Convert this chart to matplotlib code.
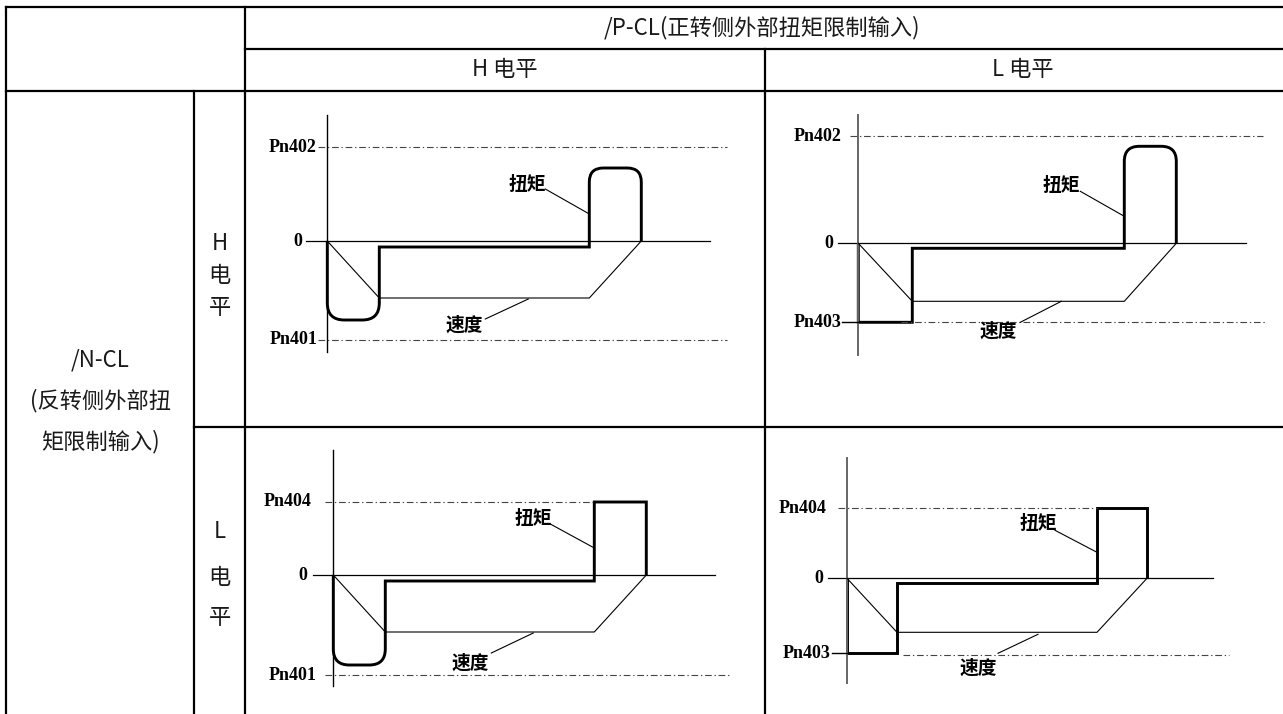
import matplotlib
matplotlib.use("Agg")
import matplotlib.pyplot as plt
from matplotlib.path import Path
from matplotlib.patches import PathPatch

plt.rcParams['font.family'] = ['Noto Sans CJK SC', 'DejaVu Sans']

W, H = 1283, 714

# ---------------- table text ----------------
top_header = "/P-CL(正转侧外部扭矩限制输入)"
col_headers = ["H 电平", "L 电平"]
row_block = ["/N-CL", "(反转侧外部扭", "矩限制输入)"]
row_levels = [["H", "电", "平"], ["L", "电", "平"]]

# ---------------- diagram data (time / torque / speed units) ----------------
# each panel: times t1 (decel end), t2 (accel start), t3 (end)
panels = [
    dict(t=[0, 52, 262, 314], tq_neg=-79, tq_hold=-6, tq_pos=73, spd=-57,
         pos_name="Pn402", pos_lim=94, neg_name="Pn401", neg_lim=-99,
         round_neg=17, round_pos=14),
    dict(t=[0, 54, 266, 318], tq_neg=-79, tq_hold=-5, tq_pos=97, spd=-58,
         pos_name="Pn402", pos_lim=107, neg_name="Pn403", neg_lim=-79,
         round_neg=0, round_pos=15),
    dict(t=[0, 52, 261, 313], tq_neg=-90, tq_hold=-6, tq_pos=73, spd=-57,
         pos_name="Pn404", pos_lim=73, neg_name="Pn401", neg_lim=-100,
         round_neg=16, round_pos=0),
    dict(t=[0, 50, 250, 300], tq_neg=-75, tq_hold=-5, tq_pos=70, spd=-54,
         pos_name="Pn404", pos_lim=70, neg_name="Pn403", neg_lim=-77,
         round_neg=0, round_pos=0),
]

# ---------------- layout (pixels) ----------------
x_left, x_split, x_c1, x_c2, x_right = 6, 194, 245, 765, 1290
y_top, y_r1, y_r2, y_r3 = 7, 49, 91, 427

layout = [
    dict(origin=(327.3, 241.0), xaxis=(-21, 383), vaxis=(-111, 126),
         pos_dash=(-9, 400), neg_dash=(-9, 400), pos_lab=-11, neg_lab=-10, zero_lab=-25,
         neg_conn=False, tq_lab=(200, 57), tq_lead=((218, 52), (262, 27)),
         sp_lab=(137, -84), sp_lead=((158, -78), (201, -58)), axcol='black'),
    dict(origin=(858.3, 243.3), xaxis=(-20, 388), vaxis=(-112, 128),
         pos_dash=(-8, 405), neg_dash=(43, 407), pos_lab=-17, neg_lab=-17, zero_lab=-25,
         neg_conn=True, tq_lab=(203, 58), tq_lead=((222, 52), (266, 27)),
         sp_lab=(140, -88), sp_lead=((162, -79), (203, -58)), axcol='#666666'),
    dict(origin=(333.3, 575.0), xaxis=(-20, 382), vaxis=(-111, 125),
         pos_dash=(-8, 260), neg_dash=(-8, 398), pos_lab=-22, neg_lab=-17, zero_lab=-26,
         neg_conn=False, tq_lab=(200, 57), tq_lead=((217, 51), (261, 27)),
         sp_lab=(137, -88), sp_lead=((158, -78), (200, -58)), axcol='black'),
    dict(origin=(847.0, 578.3), xaxis=(-19, 366), vaxis=(-105, 120),
         pos_dash=(-9, 250), neg_dash=(56, 382), pos_lab=-20, neg_lab=-16, zero_lab=-24,
         neg_conn=True, tq_lab=(191, 55), tq_lead=((208, 48), (250, 26)),
         sp_lab=(131, -90), sp_lead=((151, -75), (191, -56)), axcol='#666666'),
]

fig = plt.figure(figsize=(W / 100, H / 100), dpi=100)
ax = fig.add_axes([0, 0, 1, 1])
ax.set_xlim(0, W)
ax.set_ylim(H, 0)
ax.axis('off')

tlw = 1.6
def hl(y, x0, x1):
    ax.plot([x0, x1], [y, y], color='black', lw=tlw, solid_capstyle='projecting')
def vl(x, y0, y1):
    ax.plot([x, x], [y0, y1], color='black', lw=tlw, solid_capstyle='projecting')

hl(y_top, x_left, x_right)
hl(y_r1, x_c1, x_right)
hl(y_r2, x_left, x_right)
hl(y_r3, x_split, x_right)
vl(x_left, y_top, H + 5)
vl(x_c1, y_top, H + 5)
vl(x_split, y_r2, H + 5)
vl(x_c2, y_r1, H + 5)

tc = '#1a1a1a'
fs = 16
tw = 'light'
ax.text((x_c1 + 1280) / 2, 28, top_header, ha='center', va='center', fontsize=fs, color=tc, fontweight=tw)
ax.text((x_c1 + x_c2) / 2, 70, col_headers[0], ha='center', va='center', fontsize=fs, color=tc, fontweight=tw)
ax.text((x_c2 + 1280) / 2, 70, col_headers[1], ha='center', va='center', fontsize=fs, color=tc, fontweight=tw)
for i, s in enumerate(row_block):
    ax.text((x_left + x_split) / 2, 360 + i * 41, s, ha='center', va='center', fontsize=fs, color=tc, fontweight=tw)
lvl_y = [[244, 276, 307], [532, 577, 618]]
for r in range(2):
    for i, s in enumerate(row_levels[r]):
        ax.text((x_split + x_c1) / 2, lvl_y[r][i], s, ha='center', va='center', fontsize=fs, color=tc, fontweight=tw)


def rounded_path(pts, radii):
    verts = [pts[0]]
    codes = [Path.MOVETO]
    for i in range(1, len(pts) - 1):
        p, c, n = pts[i - 1], pts[i], pts[i + 1]
        r = radii[i]
        if r <= 0:
            verts.append(c); codes.append(Path.LINETO)
            continue
        def toward(a, b, d):
            dx, dy = b[0] - a[0], b[1] - a[1]
            L = (dx * dx + dy * dy) ** 0.5
            return (a[0] + dx / L * d, a[1] + dy / L * d)
        a = toward(c, p, r)
        b = toward(c, n, r)
        verts += [a, c, b]
        codes += [Path.LINETO, Path.CURVE3, Path.CURVE3]
    verts.append(pts[-1]); codes.append(Path.LINETO)
    return Path(verts, codes)

serif = ['Liberation Serif', 'DejaVu Serif']
cjkb = ['Noto Sans CJK SC', 'DejaVu Sans']
dash = (0, (6, 2.5, 1.2, 2.5))

for pd, lo in zip(panels, layout):
    x0, y0 = lo['origin']
    pax = fig.add_axes([0, 0, 1, 1])
    pax.set_xlim(-x0, W - x0)
    pax.set_ylim(y0 - H, y0)
    pax.axis('off')
    pax.patch.set_alpha(0)
    t0, t1, t2, t3 = pd['t']
    # axes
    pax.plot(lo['xaxis'], [0, 0], color='black', lw=0.9)
    pax.plot([0, 0], lo['vaxis'], color=lo['axcol'], lw=1.0 if lo['axcol'] == 'black' else 1.4)
    # limit lines
    pax.plot(lo['pos_dash'], [pd['pos_lim']] * 2, color='#444444', lw=0.8, linestyle=dash)
    pax.plot(lo['neg_dash'], [pd['neg_lim']] * 2, color='#444444', lw=0.8, linestyle=dash)
    if lo['neg_conn']:
        pax.plot([lo['neg_lab'] + 1, 0], [pd['tq_neg']] * 2, color='black', lw=1.0)
    # labels
    pax.text(lo['pos_lab'], pd['pos_lim'], pd['pos_name'], ha='right', va='center',
             fontsize=13, fontweight='bold', family=serif)
    neg_y = pd['tq_neg'] if lo['neg_conn'] else pd['neg_lim']
    pax.text(lo['neg_lab'], neg_y, pd['neg_name'], ha='right', va='center',
             fontsize=13, fontweight='bold', family=serif)
    pax.text(lo['zero_lab'], 0, "0", ha='right', va='center', fontsize=13,
             fontweight='bold', family=serif)
    # speed
    pax.plot([t0, t1, t2, t3], [0, pd['spd'], pd['spd'], 0], color='black', lw=0.8)
    # torque
    pts = [(t0, 0), (t0, pd['tq_neg']), (t1, pd['tq_neg']), (t1, pd['tq_hold']),
           (t2, pd['tq_hold']), (t2, pd['tq_pos']), (t3, pd['tq_pos']), (t3, 0)]
    rn, rp = pd['round_neg'], pd['round_pos']
    radii = [0, rn, rn, 0, 0, rp, rp, 0]
    pax.add_patch(PathPatch(rounded_path(pts, radii), fill=False, lw=2.1,
                            edgecolor='black', joinstyle='miter', capstyle='butt'))
    # annotations
    pax.text(*lo['tq_lab'], "扭矩", ha='center', va='center', fontsize=13.5,
             fontweight='bold', family=cjkb)
    (a, b) = lo['tq_lead']
    pax.plot([a[0], b[0]], [a[1], b[1]], color='black', lw=0.8)
    pax.text(*lo['sp_lab'], "速度", ha='center', va='center', fontsize=13.5,
             fontweight='bold', family=cjkb)
    (a, b) = lo['sp_lead']
    pax.plot([a[0], b[0]], [a[1], b[1]], color='black', lw=0.8)

fig.savefig("out.png", dpi=100)
